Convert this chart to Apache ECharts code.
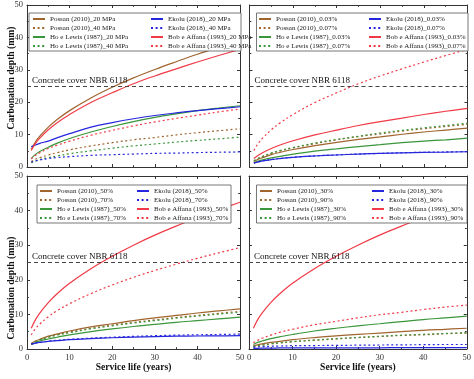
<!DOCTYPE html>
<html><head><meta charset="utf-8">
<script src="https://cdn.jsdelivr.net/npm/echarts@6/dist/echarts.min.js"></script>
<style>html,body{margin:0;padding:0;background:#fff}#c{width:474px;height:379px}</style>
</head><body><div id="c"></div>
<script>
// ---------- data ----------
const years = [1, 2, 3, 5, 7, 10, 15, 20, 25, 30, 35, 40, 45, 50];

// (a) compressive strength
const possan20  = [5.5, 7.8, 9.5, 12.3, 14.6, 17.4, 21.3, 24.6, 27.5, 30.1, 32.5, 34.8, 36.9, 38.9];
const possan40  = [1.7, 2.4, 2.9, 3.7, 4.4, 5.3, 6.5, 7.5, 8.4, 9.1, 9.9, 10.6, 11.2, 11.8];
const hoLewis20 = [2.6, 3.9, 4.8, 6.1, 7.3, 8.8, 10.8, 12.5, 14.0, 15.3, 16.4, 17.4, 18.2, 18.9];
const hoLewis40 = [1.3, 1.8, 2.3, 2.9, 3.4, 4.1, 5.0, 5.8, 6.5, 7.1, 7.7, 8.2, 8.7, 9.2];
const ekolu20   = [6.3, 6.8, 7.3, 8.0, 9.0, 10.3, 12.3, 13.7, 14.9, 15.9, 16.7, 17.4, 18.0, 18.6];
const ekolu40   = [1.5, 1.9, 2.2, 2.6, 2.9, 3.2, 3.6, 3.8, 4.0, 4.2, 4.3, 4.45, 4.55, 4.65];
const bob20     = [5.1, 7.3, 8.9, 11.5, 13.6, 16.2, 19.9, 22.9, 25.7, 28.1, 30.3, 32.4, 34.4, 36.3];
const bob40     = [2.5, 3.6, 4.4, 5.7, 6.7, 8.0, 9.8, 11.3, 12.7, 13.9, 15.0, 16.0, 17.0, 17.9];

// (b) CO2 concentration
const possan003  = [1.7, 2.4, 2.9, 3.8, 4.5, 5.4, 6.6, 7.6, 8.5, 9.3, 10.1, 10.8, 11.4, 12.0];
const possan007  = [1.9, 2.6, 3.2, 4.2, 4.9, 5.9, 7.2, 8.4, 9.4, 10.2, 11.1, 11.8, 12.5, 13.2];
const hoLewis003 = [1.3, 1.8, 2.2, 2.8, 3.3, 4.0, 4.9, 5.6, 6.3, 6.9, 7.5, 8.0, 8.4, 8.9];
const hoLewis007 = [1.9, 2.7, 3.3, 4.3, 5.1, 6.0, 7.4, 8.5, 9.5, 10.5, 11.3, 12.1, 12.8, 13.5];
const ekolu003   = [1.2, 1.6, 1.9, 2.3, 2.6, 3.0, 3.4, 3.7, 4.0, 4.2, 4.35, 4.5, 4.6, 4.7];
const ekolu007   = [1.2, 1.6, 1.9, 2.3, 2.6, 3.0, 3.45, 3.75, 4.0, 4.2, 4.4, 4.55, 4.65, 4.75];
const bob003     = [2.6, 3.6, 4.4, 5.7, 6.8, 8.1, 9.9, 11.4, 12.8, 14.0, 15.1, 16.2, 17.2, 18.1];
const bob007     = [5.1, 7.3, 8.9, 11.5, 13.6, 16.2, 19.9, 22.9, 25.7, 28.1, 30.3, 32.4, 34.4, 36.3];

// (c) relative humidity 50 / 70 %
const possan50  = [1.6, 2.3, 2.8, 3.7, 4.3, 5.2, 6.4, 7.3, 8.2, 9.0, 9.7, 10.4, 11.0, 11.6];
const possan70  = [1.5, 2.2, 2.7, 3.4, 4.1, 4.9, 6.0, 6.9, 7.7, 8.4, 9.1, 9.7, 10.3, 10.9];
const hoLewis50 = [1.3, 1.8, 2.3, 2.9, 3.4, 4.1, 5.0, 5.8, 6.5, 7.1, 7.7, 8.2, 8.7, 9.2];
const hoLewis70 = [1.5, 2.1, 2.6, 3.4, 4.0, 4.7, 5.8, 6.7, 7.5, 8.2, 8.9, 9.5, 10.1, 10.6];
const ekolu50   = [1.4, 1.7, 1.9, 2.2, 2.4, 2.7, 3.0, 3.25, 3.45, 3.6, 3.7, 3.75, 3.8, 3.85];
const ekolu70   = [1.4, 1.7, 1.9, 2.3, 2.5, 2.8, 3.15, 3.4, 3.65, 3.85, 4.0, 4.1, 4.2, 4.3];
const bob50     = [6.0, 8.5, 10.4, 13.4, 15.9, 19.0, 23.2, 26.8, 30.0, 32.9, 35.5, 37.9, 40.2, 42.4];
const bob70     = [4.1, 5.9, 7.2, 9.3, 11.0, 13.1, 16.0, 18.5, 20.7, 22.7, 24.5, 26.2, 27.8, 29.3];

// (d) relative humidity 30 / 90 %
const possan30  = [0.9, 1.2, 1.5, 1.9, 2.2, 2.7, 3.3, 3.8, 4.2, 4.6, 5.0, 5.4, 5.7, 6.0];
const possan90  = [0.65, 0.9, 1.1, 1.5, 1.7, 2.1, 2.5, 2.9, 3.3, 3.6, 3.9, 4.1, 4.4, 4.6];
const hoLewis30 = [1.3, 1.9, 2.3, 3.0, 3.5, 4.2, 5.2, 6.0, 6.7, 7.3, 7.9, 8.5, 9.0, 9.5];
const hoLewis90 = [0.7, 0.95, 1.15, 1.5, 1.8, 2.15, 2.6, 3.0, 3.35, 3.7, 4.0, 4.25, 4.5, 4.7];
const ekolu30   = [0.2, 0.2, 0.25, 0.25, 0.3, 0.3, 0.3, 0.35, 0.35, 0.35, 0.4, 0.4, 0.4, 0.4];
const ekolu90   = [0.5, 0.6, 0.7, 0.8, 0.85, 0.95, 1.0, 1.05, 1.1, 1.15, 1.2, 1.25, 1.3, 1.3];
const bob30     = [6.0, 8.5, 10.4, 13.4, 15.9, 19.0, 23.2, 26.8, 30.0, 32.9, 35.5, 37.9, 40.2, 42.4];
const bob90     = [1.8, 2.5, 3.1, 4.0, 4.8, 5.7, 7.0, 8.0, 9.0, 9.9, 10.6, 11.4, 12.1, 12.7];

const coverDepth = 25;
const coverLabel = 'Concrete cover NBR 6118';
const xName = 'Service life (years)';
const yName = 'Carbonation depth (mm)';

// ---------- styling / layout ----------
const FONT = 'Liberation Serif';
const C = { possan: '#a0642e', ho: '#3a963a', ekolu: '#2626dc', bob: '#f03a46' };
const DOT = [2, 2.6];

const panels = [
  { tag: '(a)', grid: { left: 27, top: 5, width: 213, height: 162 }, xLab: false, yLab: true,
    box: { left: 29, top: 13, right: 240 }, c1: 32, c2: 150,
    s: [['Possan (2010)_20 MPa', possan20, 'possan', 0], ['Possan (2010)_40 MPa', possan40, 'possan', 1],
        ['Ho e Lewis (1987)_20 MPa', hoLewis20, 'ho', 0], ['Ho e Lewis (1987)_40 MPa', hoLewis40, 'ho', 1],
        ['Ekolu (2018)_20 MPa', ekolu20, 'ekolu', 0], ['Ekolu (2018)_40 MPa', ekolu40, 'ekolu', 1],
        ['Bob e Affana (1993)_20 MPa', bob20, 'bob', 0], ['Bob e Affana (1993)_40 MPa', bob40, 'bob', 1]] },
  { tag: '(b)', grid: { left: 249.5, top: 5, width: 218, height: 162 }, xLab: false, yLab: false,
    box: { left: 256.5, top: 13, right: 467 }, c1: 258, c2: 368,
    s: [['Possan (2010)_0.03%', possan003, 'possan', 0], ['Possan (2010)_0.07%', possan007, 'possan', 1],
        ['Ho e Lewis (1987)_0.03%', hoLewis003, 'ho', 0], ['Ho e Lewis (1987)_0.07%', hoLewis007, 'ho', 1],
        ['Ekolu (2018)_0.03%', ekolu003, 'ekolu', 0], ['Ekolu (2018)_0.07%', ekolu007, 'ekolu', 1],
        ['Bob e Affana (1993)_0.03%', bob003, 'bob', 0], ['Bob e Affana (1993)_0.07%', bob007, 'bob', 1]] },
  { tag: '(c)', grid: { left: 27, top: 176, width: 213, height: 173 }, xLab: true, yLab: true,
    box: { left: 37, top: 185, right: 230 }, c1: 39, c2: 136,
    s: [['Possan (2010)_50%', possan50, 'possan', 0], ['Possan (2010)_70%', possan70, 'possan', 1],
        ['Ho e Lewis (1987)_50%', hoLewis50, 'ho', 0], ['Ho e Lewis (1987)_70%', hoLewis70, 'ho', 1],
        ['Ekolu (2018)_50%', ekolu50, 'ekolu', 0], ['Ekolu (2018)_70%', ekolu70, 'ekolu', 1],
        ['Bob e Affana (1993)_50%', bob50, 'bob', 0], ['Bob e Affana (1993)_70%', bob70, 'bob', 1]] },
  { tag: '(d)', grid: { left: 249, top: 176, width: 218, height: 173 }, xLab: true, yLab: false,
    box: { left: 256.5, top: 185, right: 466 }, c1: 259, c2: 371,
    s: [['Possan (2010)_30%', possan30, 'possan', 0], ['Possan (2010)_90%', possan90, 'possan', 1],
        ['Ho e Lewis (1987)_30%', hoLewis30, 'ho', 0], ['Ho e Lewis (1987)_90%', hoLewis90, 'ho', 1],
        ['Ekolu (2018)_30%', ekolu30, 'ekolu', 0], ['Ekolu (2018)_90%', ekolu90, 'ekolu', 1],
        ['Bob e Affana (1993)_30%', bob30, 'bob', 0], ['Bob e Affana (1993)_90%', bob90, 'bob', 1]] }
];

const LEG_FS = 7, ICON_W = 12;
const mctx = document.createElement('canvas').getContext('2d');
function textW(s) { mctx.font = LEG_FS + 'px "' + FONT + '"'; return mctx.measureText(s).width; }

const grid = [], xAxis = [], yAxis = [], series = [], legend = [];
const axisCommon = {
  type: 'value', min: 0, max: 50, interval: 10,
  axisLine: { show: true, onZero: false, lineStyle: { color: '#333', width: 1 } },
  axisTick: { show: true, inside: true, length: 3, lineStyle: { color: '#333' } },
  minorTick: { show: true, splitNumber: 2, length: 1.8, lineStyle: { color: '#333' } },
  splitLine: { show: false }, minorSplitLine: { show: false }
};
const labStyle = { fontFamily: FONT, fontSize: 8.5, color: '#333' };

panels.forEach((p, i) => {
  grid.push(p.grid);
  xAxis.push(Object.assign({}, axisCommon, {
    gridIndex: i, position: 'bottom',
    axisLabel: Object.assign({ show: p.xLab, margin: 4 }, labStyle),
    name: p.xLab ? xName : '', nameLocation: 'middle', nameGap: 13,
    nameTextStyle: { fontFamily: FONT, fontSize: 9.6, fontWeight: 'bold', color: '#111' }
  }));
  xAxis.push(Object.assign({}, axisCommon, { gridIndex: i, position: 'top', axisLabel: { show: false } }));
  yAxis.push(Object.assign({}, axisCommon, {
    gridIndex: i, position: 'left',
    axisLabel: Object.assign({ show: p.yLab, margin: 4 }, labStyle)
  }));
  yAxis.push(Object.assign({}, axisCommon, { gridIndex: i, position: 'right', axisLabel: { show: false } }));

  p.s.forEach((d, k) => {
    const [name, vals, key, dotted] = d;
    const s = {
      type: 'line', name, xAxisIndex: 2 * i, yAxisIndex: 2 * i,
      data: years.map((x, j) => [x, vals[j]]),
      smooth: 0.4, showSymbol: false, symbol: 'none',
      lineStyle: { color: C[key], width: 1.2, type: dotted ? DOT : 'solid' },
      itemStyle: { color: C[key] }, silent: true, z: 2
    };
    if (k === 0) {
      s.markLine = {
        silent: true, symbol: ['none', 'none'], animation: false,
        data: [
          { yAxis: coverDepth,
            lineStyle: { color: '#444', width: 1, type: [4, 3] },
            label: { show: true, position: 'insideStartTop', formatter: coverLabel, distance: [5, 1],
                     fontFamily: FONT, fontSize: 9, color: '#111' } },
          { yAxis: coverDepth,
            lineStyle: { opacity: 0 },
            label: { show: true, position: 'insideEndTop', formatter: p.tag, distance: [3, 1],
                     fontFamily: FONT, fontSize: 9, fontWeight: 'bold', color: '#111' } }
        ]
      };
    }
    series.push(s);
  });

  const col1 = [p.s[0][0], p.s[1][0], p.s[2][0], p.s[3][0]];
  const col2 = [p.s[4][0], p.s[5][0], p.s[6][0], p.s[7][0]];
  const w1 = ICON_W + 5 + Math.max(...col1.map(textW));
  const padL = p.c1 - p.box.left;
  const padR = Math.max(0, p.box.right - p.c1 - w1);
  const legCommon = {
    orient: 'vertical', itemWidth: ICON_W, itemHeight: 9, itemGap: 0, selectedMode: false,
    itemStyle: { opacity: 0 },
    textStyle: { fontFamily: FONT, fontSize: LEG_FS, color: '#222', lineHeight: 9 }
  };
  legend.push(Object.assign({}, legCommon, {
    data: col1, left: p.box.left, top: p.box.top, padding: [1.5, padR, 0.5, padL],
    backgroundColor: '#fff', borderColor: '#555', borderWidth: 0.8, z: 5
  }));
  legend.push(Object.assign({}, legCommon, {
    data: col2, left: p.c2, top: p.box.top + 1.5, padding: 0, z: 6
  }));
});

const chart = echarts.init(document.getElementById('c'), null, { renderer: 'canvas' });
chart.setOption({
  animation: false,
  backgroundColor: '#fff',
  grid, xAxis, yAxis, series, legend,
  graphic: [
    { type: 'text', rotation: Math.PI / 2, x: 12, y: 78, z: 10,
      style: { text: yName, fontFamily: FONT, fontSize: 9.6, fontWeight: 'bold', fill: '#111',
               textAlign: 'center', textVerticalAlign: 'middle' } },
    { type: 'text', rotation: Math.PI / 2, x: 12, y: 288, z: 10,
      style: { text: yName, fontFamily: FONT, fontSize: 9.6, fontWeight: 'bold', fill: '#111',
               textAlign: 'center', textVerticalAlign: 'middle' } }
  ]
});
</script></body></html>
